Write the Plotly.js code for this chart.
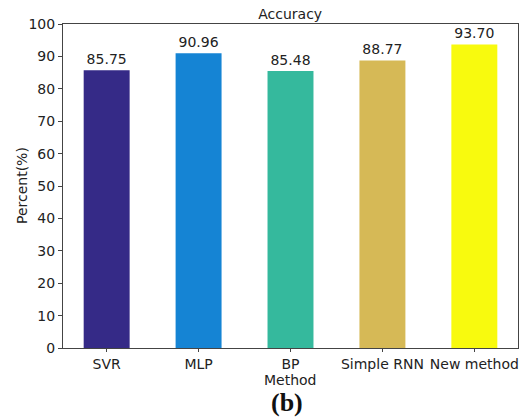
<!DOCTYPE html>
<html>
<head>
<meta charset="utf-8">
<script src="https://cdn.plot.ly/plotly-3.0.1.min.js"></script>
<style>html,body{margin:0;padding:0;background:#fff;}#chart{width:521px;height:418px;}</style>
</head>
<body>
<div id="chart"></div>
<script>
const methods = ["SVR", "MLP", "BP", "Simple RNN", "New method"];
const accuracy = [85.75, 90.96, 85.48, 88.77, 93.70];
const barColors = ["#352a87", "#1584d4", "#35b99d", "#d6b956", "#f8fa0e"];
const yTicks = [0, 10, 20, 30, 40, 50, 60, 70, 80, 90, 100];

const font = "DejaVu Sans, sans-serif";
const trace = {
  type: "bar",
  x: methods,
  y: accuracy,
  width: 0.5,
  marker: {color: barColors, line: {width: 0}},
  text: accuracy.map(v => v.toFixed(2)),
  textposition: "outside",
  textfont: {family: font, size: 14, color: "#222"},
  cliponaxis: false,
  hoverinfo: "skip"
};

const layout = {
  width: 521, height: 418,
  margin: {l: 63, r: 3, t: 24, b: 70},
  paper_bgcolor: "#fff", plot_bgcolor: "#fff",
  showlegend: false,
  font: {family: font, size: 14, color: "#222"},
  title: {text: "Accuracy", font: {family: font, size: 14, color: "#222"}, x: 0.557, xanchor: "center", y: 0.966, yanchor: "middle"},
  xaxis: {
    range: [-0.475, 4.475],
    showline: true, linecolor: "#444", linewidth: 1, mirror: true,
    ticks: "outside", ticklen: 3, tickcolor: "#444",
    showgrid: false, zeroline: false,
    tickfont: {family: font, size: 14, color: "#222"}
  },
  yaxis: {
    range: [0, 100],
    tickvals: yTicks,
    showline: true, linecolor: "#444", linewidth: 1, mirror: true,
    ticks: "outside", ticklen: 4, tickcolor: "#444",
    showgrid: false, zeroline: false,
    tickfont: {family: font, size: 14, color: "#222"}
  },
  annotations: [{
    text: "Percent(%)", xref: "paper", yref: "paper", x: -0.090, y: 0.5,
    xanchor: "center", yanchor: "middle", textangle: -90, showarrow: false,
    font: {family: font, size: 14, color: "#222"}
  }, {
    text: "Method", xref: "paper", yref: "paper", x: 0.5, y: -0.098,
    xanchor: "center", yanchor: "middle", showarrow: false,
    font: {family: font, size: 14, color: "#222"}
  }, {
    text: "<b>(b)</b>", xref: "paper", yref: "paper", x: 0.493, y: -0.168,
    xanchor: "center", yanchor: "middle", showarrow: false,
    font: {family: "Liberation Serif, Times New Roman, serif", size: 26, color: "#111"}
  }]
};

Plotly.newPlot("chart", [trace], layout, {staticPlot: true, displayModeBar: false});
</script>
</body>
</html>
